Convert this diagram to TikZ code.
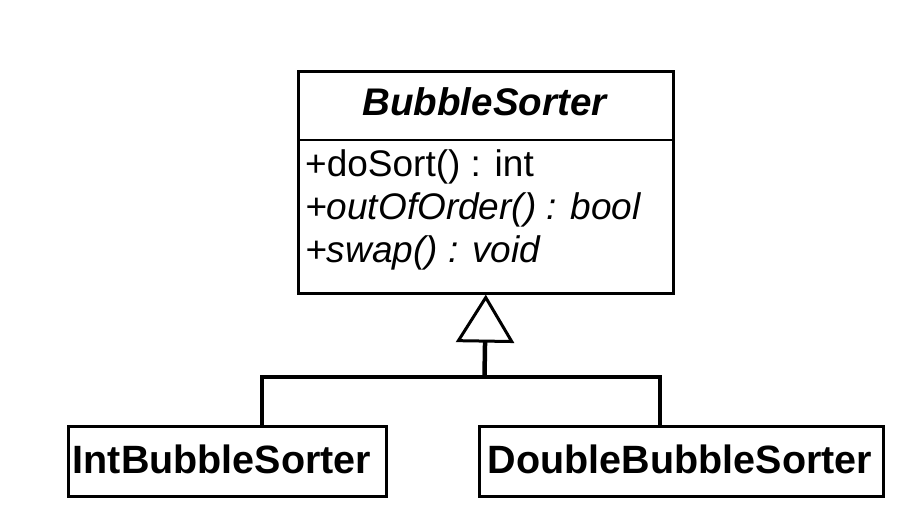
\documentclass[tikz,border=0pt]{standalone}
\usepackage{fontspec}
\setmainfont{Liberation Sans}
\usetikzlibrary{arrows.meta}
\tikzset{
  classbox/.style={draw, line width=3pt, minimum height=70pt, inner sep=0pt, anchor=north west},
  mainbox/.style={draw, line width=2.6pt, inner sep=0pt, anchor=north west, minimum width=375pt, minimum height=222pt},
  bigname/.style={font=\fontsize{39.5}{44}\selectfont\bfseries, inner sep=0pt},
  titlename/.style={font=\fontsize{38.5}{44}\selectfont\bfseries\itshape, inner sep=0pt},
  member/.style={font=\fontsize{37}{43}\selectfont, inner sep=0pt, anchor=base west},
  link/.style={line width=4.5pt},
  inherit/.style={line width=4.5pt, -{Triangle[open, length=48pt, width=58pt, line width=3pt 0]}}
}
\begin{document}
\begin{tikzpicture}[x=1pt, y=-1pt]
\useasboundingbox (0,0) rectangle (916,520);
% parent class
\node[mainbox] (cls) at (297,70) {};
\coordinate (sepL) at (297,140);
\coordinate (sepR) at (672,140);
\draw[line width=2.6pt] (sepL) -- (sepR);
\node[titlename, anchor=base] (title) at (484.5,115) {BubbleSorter};
\node[member] (m1) at (305,176) {+doSort() : int};
\node[member] (m2) at (305,219) {\itshape +outOfOrder() : bool};
\node[member] (m3) at (305,262) {\itshape +swap() : void};
% subclasses
\node[classbox, minimum width=318pt] (int) at (67,425) {};
\node[bigname, anchor=base] (intname) at (222,473) {IntBubbleSorter};
\node[classbox, minimum width=404pt] (dbl) at (478,425) {};
\node[bigname, anchor=base] (dblname) at (680,473) {DoubleBubbleSorter};
% connectors
\coordinate (ja) at (262,377);
\coordinate (jb) at (660,377);
\coordinate (j) at (484.5,377);
\draw[link] (ja |- int.north) -- (ja) -- (jb) -- (jb |- dbl.north);
\draw[inherit] (j) -- (cls.south);
\end{tikzpicture}
\end{document}
